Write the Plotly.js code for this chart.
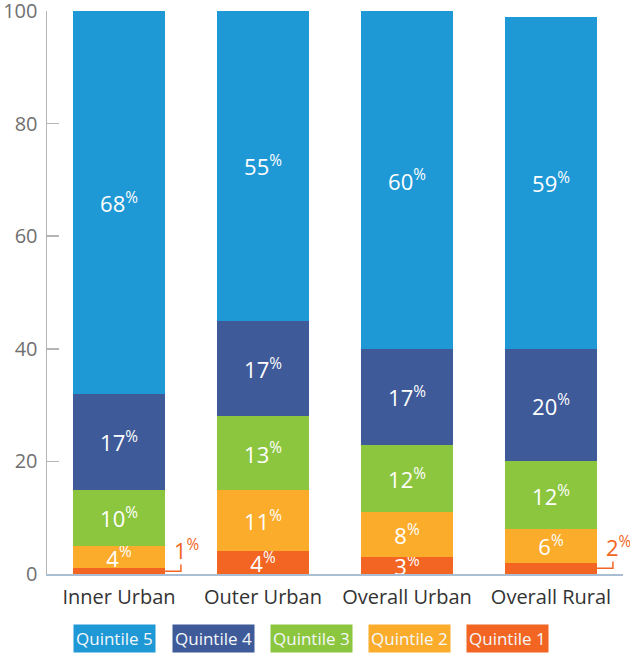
<!DOCTYPE html>
<html>
<head>
<meta charset="utf-8">
<script src="https://cdn.plot.ly/plotly-3.0.1.min.js"></script>
<style>html,body{margin:0;padding:0;background:#fff;}#chart{width:630px;height:653px;}</style>
</head>
<body>
<div id="chart"></div>
<script>
const categories = ["Inner Urban", "Outer Urban", "Overall Urban", "Overall Rural"];
const quintile1 = [1, 4, 3, 2];
const quintile2 = [4, 11, 8, 6];
const quintile3 = [10, 13, 12, 12];
const quintile4 = [17, 17, 17, 20];
const quintile5 = [68, 55, 60, 59];
const seriesNames = ["Quintile 1", "Quintile 2", "Quintile 3", "Quintile 4", "Quintile 5"];
const seriesColors = ["#f26522", "#fbac2b", "#8cc63f", "#3e5a98", "#1f98d6"];
const yTicks = [0, 20, 40, 60, 80, 100];

const series = [quintile1, quintile2, quintile3, quintile4, quintile5];
const BAR_W = 0.64;
const fontFam = "'Open Sans', 'Noto Sans', sans-serif";

const traces = series.map((vals, i) => ({
  type: "bar",
  name: seriesNames[i],
  x: categories,
  y: vals,
  width: BAR_W,
  marker: {color: seriesColors[i], line: {width: 0}},
  text: vals.map(v => v >= 3 ? v + "<sup>%</sup>" : ""),
  textposition: "inside",
  insidetextanchor: "middle",
  constraintext: "none",
  textangle: 0,
  textfont: {color: "#ffffff", size: 22, family: fontFam},
  hoverinfo: "none",
  showlegend: false
}));

// outside labels for small Quintile 1 values, with elbow leader lines
const annotations = [];
const shapes = [];
quintile1.forEach((v, i) => {
  if (v < 3) {
    const edge = i + BAR_W / 2;
    const elbowX = i + 0.43;
    shapes.push({
      type: "path", xref: "x", yref: "y",
      path: `M ${edge} ${v / 2} L ${elbowX} ${v / 2} L ${elbowX} ${v / 2 + 1.2}`,
      line: {color: seriesColors[0], width: 1.5}
    });
    annotations.push({
      xref: "x", yref: "y", x: i + 0.365, y: v / 2 + 0.8,
      xanchor: "left", yanchor: "bottom", showarrow: false,
      text: v + "<sup>%</sup>",
      font: {color: seriesColors[0], size: 22, family: fontFam}
    });
  }
});

// legend boxes
const legendOrder = [4, 3, 2, 1, 0];
legendOrder.forEach((si, k) => {
  annotations.push({
    xref: "paper", yref: "paper",
    x: 0.118 + k * 0.1703, y: -0.114,
    xanchor: "center", yanchor: "middle", showarrow: false,
    text: seriesNames[si],
    bgcolor: seriesColors[si],
    borderpad: 2,
    font: {color: "#f4f8fb", size: 17, family: fontFam}
  });
});

const layout = {
  width: 630, height: 653,
  margin: {l: 47, r: 7, t: 11, b: 79},
  barmode: "stack",
  paper_bgcolor: "#ffffff",
  plot_bgcolor: "#ffffff",
  showlegend: false,
  xaxis: {
    type: "category",
    range: [-0.5, 3.5],
    showline: true, linecolor: "#a9bdd3", linewidth: 1.5,
    ticks: "", showgrid: false, zeroline: false,
    ticklabelstandoff: 4,
    tickfont: {size: 20, color: "#333333", family: fontFam}
  },
  yaxis: {
    range: [0, 100],
    tickvals: yTicks,
    showline: true, linecolor: "#b5b5b5", linewidth: 1.5,
    ticks: "inside", ticklen: 12, tickcolor: "#b5b5b5", tickwidth: 1.5,
    showgrid: false, zeroline: false,
    ticklabelstandoff: 4,
    ticklabeloverflow: "allow",
    tickfont: {size: 20, color: "#707070", family: fontFam}
  },
  annotations: annotations,
  shapes: shapes
};

Plotly.newPlot("chart", traces, layout, {displayModeBar: false, staticPlot: true});
</script>
</body>
</html>
